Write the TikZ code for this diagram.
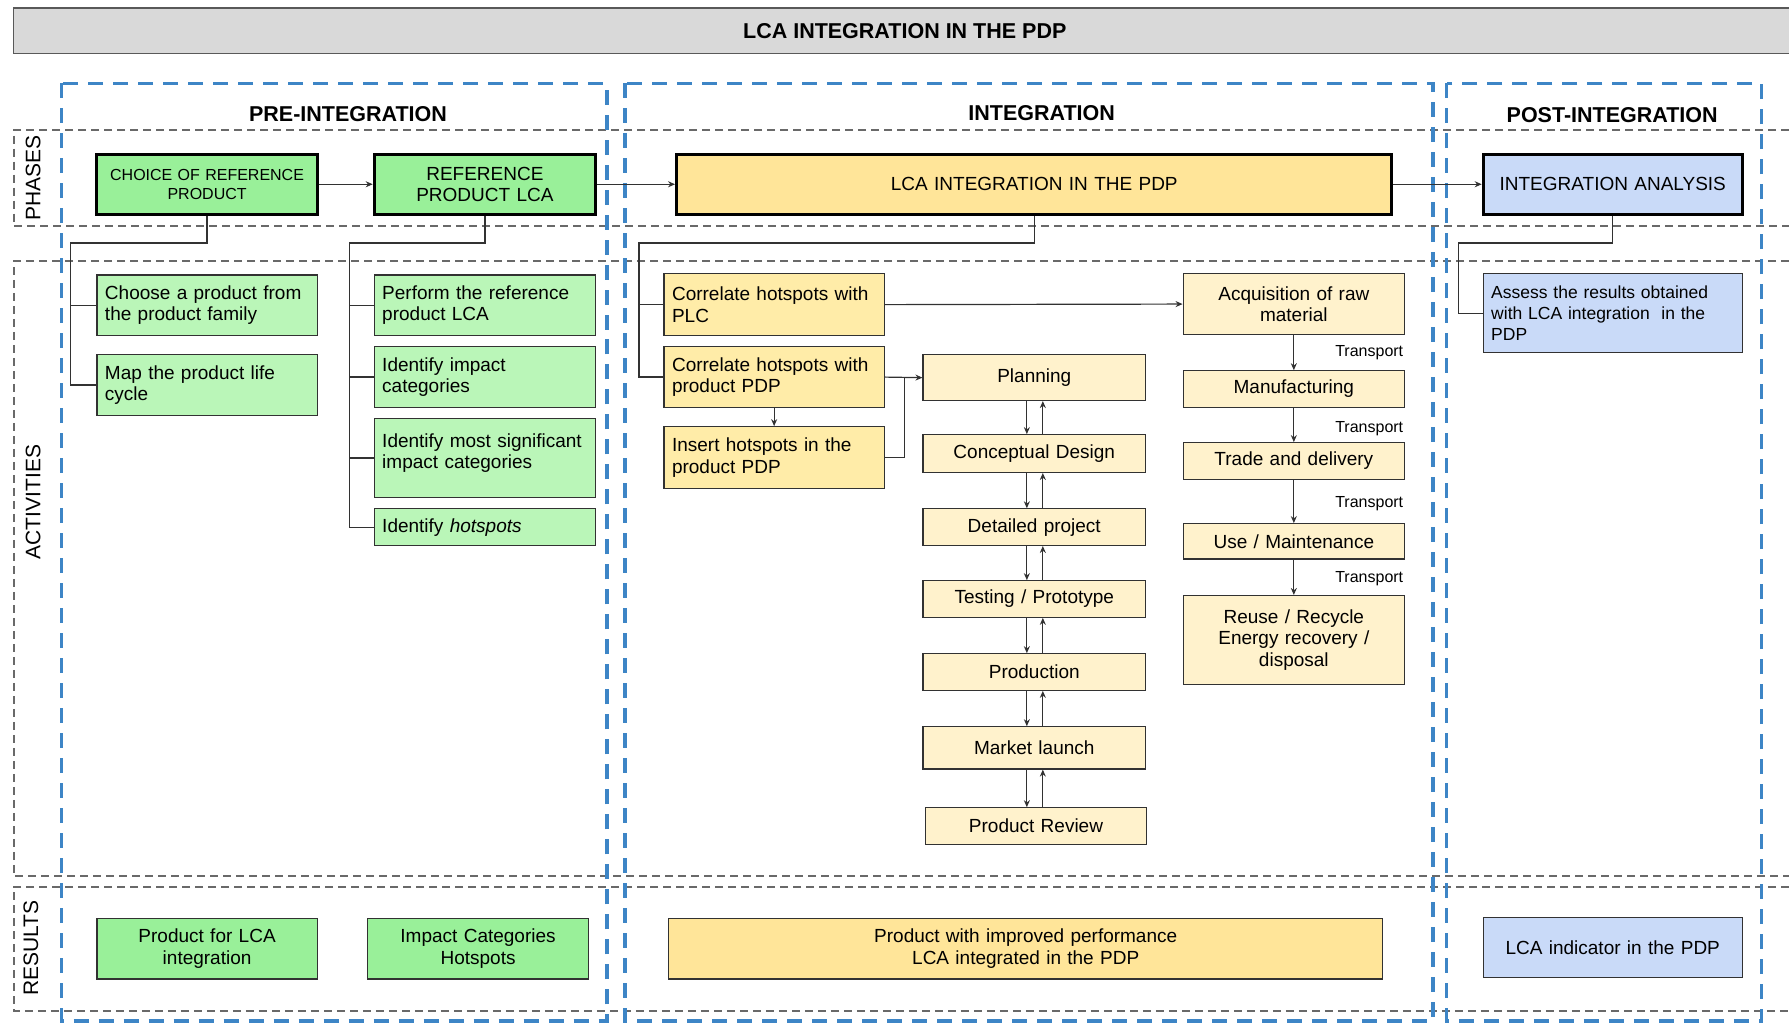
\documentclass[tikz,border=0pt]{standalone}
\usepackage{fontspec}
\setmainfont{Liberation Sans}
\usetikzlibrary{arrows.meta}
\definecolor{phgreen}{RGB}{153,240,153}
\definecolor{acgreen}{RGB}{186,246,184}
\definecolor{phyel}{RGB}{255,229,153}
\definecolor{cyel}{RGB}{255,236,168}
\definecolor{pyel}{RGB}{255,242,204}
\definecolor{pblue}{RGB}{201,218,248}
\definecolor{dblue}{RGB}{61,133,198}
\definecolor{dgray}{RGB}{105,105,105}
\definecolor{linec}{RGB}{50,50,50}
\definecolor{titlegray}{RGB}{217,217,217}
\newcommand\mkbox[7][]{%
 \pgfmathsetlengthmacro\bxw{(#5-#3)*1.141pt}%
 \pgfmathsetlengthmacro\bxh{(#6-#4)*1.141pt}%
 \pgfmathsetlengthmacro\bxt{(#5-#3)*1.141pt-16pt}%
 \node[boxbase,minimum width=\bxw,minimum height=\bxh,text width=\bxt,#1] (#2) at ({(#3+#5)/2},{(#4+#6)/2}) {#7};}
\begin{document}
\begin{tikzpicture}[x=1.141pt,y=-1.141pt,
 boxbase/.style={draw=linec,line width=1.2pt,inner xsep=8pt,inner ysep=0pt,font=\fontsize{19}{21.5}\selectfont,align=left},
 phasebox/.style={draw=black,line width=3pt,align=center},
 ctr/.style={align=center},
 colhead/.style={font=\bfseries\fontsize{21.5}{24}\selectfont},
 rowlab/.style={rotate=90,font=\fontsize{21}{24}\selectfont},
 trans/.style={anchor=east,font=\fontsize{16}{18}\selectfont,inner sep=0pt},
 grayd/.style={draw=dgray,line width=2pt,dash pattern=on 8pt off 5pt},
 blued/.style={draw=dblue,line width=3.5pt,dash pattern=on 15pt off 10pt},
 conn/.style={draw=linec,line width=1.2pt},
 arrw/.style={conn,-{Stealth[length=7pt,width=6pt]}}]
\useasboundingbox (0,0) rectangle (1568,898);
% title bar
\fill[titlegray] (12,7) rectangle (1568,47);
\draw[line width=1.6pt,draw=gray!70!black] (1568,7) -- (12,7) -- (12,47) -- (1568,47);
\node[colhead] (title) at (793,27) {LCA INTEGRATION IN THE PDP};
% gray dashed rows
\draw[grayd] (1568,114) -- (12,114) -- (12,198) -- (1568,198);
\draw[grayd] (1568,229) -- (12,229) -- (12,768) -- (1568,768);
\draw[grayd] (1568,777) -- (12,777) -- (12,886) -- (1568,886);
% blue dashed columns
\draw[blued] (54,73) rectangle (532,895);
\draw[blued] (548,73) rectangle (1256,895);
\draw[blued] (1268,73) rectangle (1544,895);
% headings
\node[colhead] (h1) at (305,100) {PRE-INTEGRATION};
\node[colhead] (h2) at (913,99) {INTEGRATION};
\node[colhead] (h3) at (1413,101) {POST-INTEGRATION};
\node[rowlab] (lph) at (29,156) {PHASES};
\node[rowlab] (lac) at (29,440) {ACTIVITIES};
\node[rowlab] (lre) at (27,831) {RESULTS};
% phases
\mkbox[phasebox,fill=phgreen,font=\fontsize{16}{19}\selectfont]{choice}{85}{135}{278}{188}{CHOICE OF REFERENCE\\PRODUCT}
\mkbox[phasebox,fill=phgreen]{ref}{328}{135}{522}{188}{REFERENCE\\PRODUCT LCA}
\mkbox[phasebox,fill=phyel]{lca}{593}{135}{1220}{188}{LCA INTEGRATION IN THE PDP}
\mkbox[phasebox,fill=pblue]{ia}{1300}{135}{1527}{188}{INTEGRATION ANALYSIS}
% pre activities
\mkbox[fill=acgreen]{a1}{85}{241}{278}{294}{Choose a product from\\the product family}
\mkbox[fill=acgreen]{a2}{85}{311}{278}{364}{Map the product life\\cycle}
\mkbox[fill=acgreen]{b1}{328}{241}{522}{294}{Perform the reference\\product LCA}
\mkbox[fill=acgreen]{b2}{328}{304}{522}{357}{Identify impact\\categories}
\mkbox[fill=acgreen]{b3}{328}{367}{522}{436}{Identify most significant\\impact categories\\[-8pt]\mbox{}}
\mkbox[fill=acgreen]{b4}{328}{446}{522}{478}{Identify \textit{hotspots}}
% integration activities
\mkbox[fill=cyel]{c1}{582}{240}{775}{294}{Correlate hotspots with\\PLC}
\mkbox[fill=cyel]{c2}{582}{304}{775}{357}{Correlate hotspots with\\product PDP}
\mkbox[fill=cyel]{c3}{582}{374}{775}{428}{Insert hotspots in the\\product PDP}
% PDP stages
\mkbox[fill=pyel,ctr]{p1}{809}{311}{1004}{351}{Planning}
\mkbox[fill=pyel,ctr]{p2}{809}{381}{1004}{414}{Conceptual Design}
\mkbox[fill=pyel,ctr]{p3}{809}{446}{1004}{478}{Detailed project}
\mkbox[fill=pyel,ctr]{p4}{809}{509}{1004}{541}{Testing / Prototype}
\mkbox[fill=pyel,ctr]{p5}{809}{573}{1004}{605}{Production}
\mkbox[fill=pyel,ctr]{p6}{809}{637}{1004}{674}{Market launch}
\mkbox[fill=pyel,ctr]{p7}{811}{708}{1005}{740}{Product Review}
% life cycle
\mkbox[fill=pyel,ctr]{l1}{1037}{240}{1231}{293}{Acquisition of raw\\material}
\mkbox[fill=pyel,ctr]{l2}{1037}{325}{1231}{357}{Manufacturing}
\mkbox[fill=pyel,ctr]{l3}{1037}{388}{1231}{420}{Trade and delivery}
\mkbox[fill=pyel,ctr]{l4}{1037}{459}{1231}{490}{Use / Maintenance}
\mkbox[fill=pyel,ctr]{l5}{1037}{522}{1231}{600}{Reuse / Recycle\\Energy recovery /\\disposal}
\node[trans] (t1) at (1230,309) {Transport};
\node[trans] (t2) at (1230,376) {Transport};
\node[trans] (t3) at (1230,441) {Transport};
\node[trans] (t4) at (1230,507) {Transport};
% post activity
\mkbox[fill=pblue,font=\fontsize{17.5}{21}\selectfont]{as}{1300}{240}{1527}{309}{Assess the results obtained\\with LCA integration~ in the\\PDP}
% results
\mkbox[fill=phgreen,ctr]{r1}{85}{805}{278}{858}{Product for LCA\\integration}
\mkbox[fill=phgreen,ctr]{r2}{322}{805}{516}{858}{Impact Categories\\Hotspots}
\mkbox[fill=phyel,ctr]{r3}{586}{805}{1212}{858}{Product with improved performance\\LCA integrated in the PDP}
\mkbox[fill=pblue,ctr]{r4}{1300}{804}{1527}{857}{LCA indicator in the PDP}
% phase arrows
\draw[arrw] (choice.east) -- (ref.west);
\draw[arrw] (ref.east) -- (lca.west);
\draw[arrw] (lca.east) -- (ia.west);
% pre connectors
\coordinate (j1) at (62,213);
\draw[conn] (choice.south) |- (j1) |- (a1.west);
\draw[conn] (j1) |- (a2.west);
\coordinate (j2) at (306,213);
\draw[conn] (ref.south) |- (j2) |- (b1.west);
\draw[conn] (j2) |- (b2.west);
\draw[conn] (j2) |- (b3.west);
\draw[conn] (j2) |- (b4.west);
% integration connectors
\coordinate (j3) at (560,213);
\draw[conn] (lca.south) |- (j3) |- (c1.west);
\draw[conn] (j3) |- (c2.west);
\draw[arrw] (c2.south) -- (c3.north);
\draw[arrw] (c1.east) -- (l1.west);
\draw[arrw] (c2.east) -- (p1.west);
\coordinate (j4) at (793,331);
\draw[conn] (c3.east) -| (j4);
\coordinate (dn) at (900,0);
\coordinate (upx) at (914,0);
\foreach \u/\v in {p1/p2,p2/p3,p3/p4,p4/p5,p5/p6,p6/p7}{
 \draw[arrw] (\u.south -| dn) -- (\v.north -| dn);
 \draw[arrw] (\v.north -| upx) -- (\u.south -| upx);
}
\foreach \u/\v in {l1/l2,l2/l3,l3/l4,l4/l5}{
 \draw[arrw] (\u.south) -- (\v.north);
}
% post connector
\coordinate (j5) at (1278,213);
\draw[conn] (ia.south) |- (j5) |- (as.west);
\end{tikzpicture}
\end{document}
